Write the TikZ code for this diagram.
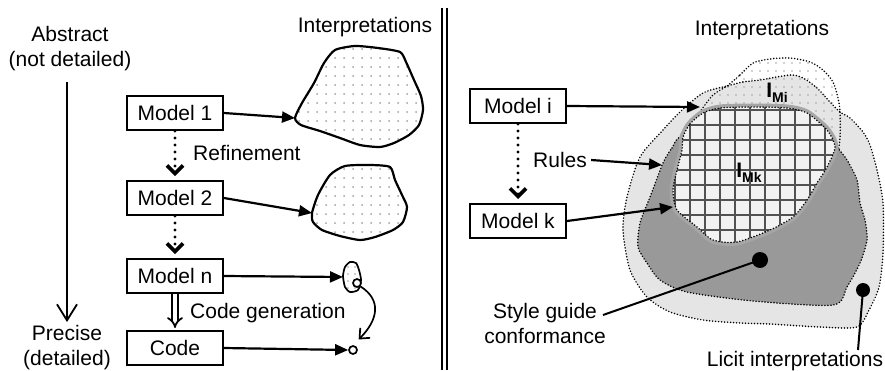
\documentclass[tikz,border=0pt]{standalone}
\usepackage{fontspec}
\setmainfont{Liberation Sans}
\usetikzlibrary{arrows.meta}

\newcommand\pathBlobA{plot[smooth cycle,tension=0.4] coordinates {(295,118) (302,103) (314,83) (324,63) (335,50) (355,46) (378,48) (400,52) (406,62) (414,80) (421,96) (423,110) (419,125) (409,135) (394,143) (380,147) (360,145) (340,138) (320,131) (301,125)}}
\newcommand\pathBlobB{plot[smooth cycle,tension=0.4] coordinates {(312,213) (318,195) (330,175) (345,166) (370,165) (390,167) (395,180) (402,195) (407,207) (403,222) (393,230) (375,237) (360,240) (340,236) (322,230) (313,222)}}
\newcommand\pathBlobC{plot[smooth cycle,tension=0.4] coordinates {(343,276) (345,267) (350,262) (356,263) (359,270) (361,280) (358,290) (350,292) (345,287)}}
\newcommand\pathLicit{plot[smooth cycle,tension=0.45] coordinates {(727,86) (743,82) (760,80) (790,75) (803,78) (817,88) (830,102) (840,112) (850,118) (863,132) (870,145) (877,170) (883,203) (883,253) (879,287) (869,310) (857,327) (820,327) (770,324) (740,323) (703,320) (670,312) (647,297) (630,270) (623,230) (627,197) (640,157) (663,130) (680,112) (703,93)}}
\newcommand\pathMi{plot[smooth cycle,tension=0.45] coordinates {(727,86) (740,75) (753,63) (770,59) (790,58) (810,62) (823,70) (833,82) (838,98) (840,112) (840,138) (836,160) (820,185) (760,200) (700,185) (683,160) (686,140) (690,130) (700,112) (713,95)}}
\newcommand\pathDark{plot[smooth cycle,tension=0.45] coordinates {(663,163) (672,148) (685,135) (760,125) (828,136) (837,147) (847,160) (857,180) (860,203) (865,220) (867,240) (860,263) (847,287) (833,305) (753,301) (687,292) (660,280) (647,263) (638,247) (640,223) (650,197)}}
\newcommand\pathMk{plot[smooth cycle,tension=0.45] coordinates {(683,137) (690,124) (703,113) (720,108) (753,107) (787,108) (807,113) (827,130) (835,147) (827,167) (817,183) (807,200) (793,217) (770,230) (737,242) (713,240) (697,227) (677,210) (673,190) (677,170) (682,150)}}

\begin{document}
\begin{tikzpicture}[x=1pt,y=-1pt,
  txt/.style={font=\fontsize{21}{25}\selectfont, inner sep=0pt},
  box/.style={draw, line width=2pt, minimum width=96pt, minimum height=34pt, inner sep=0pt, font=\fontsize{21}{25}\selectfont, fill=white},
  link/.style={line width=2.2pt, -{Triangle[length=13pt,width=11pt]}},
  refine/.style={line width=3.2pt, line cap=round, dash pattern=on 0pt off 7pt, shorten >=4pt, -{Straight Barb[length=8pt,width=16pt,line width=3.6pt]}},
  blob/.style={line width=2.2pt, line join=round},
  rdot/.style={line width=1.7pt, line cap=round, dash pattern=on 0pt off 3pt},
  ball/.style={circle, fill=black, inner sep=0pt},
  ring/.style={circle, draw, fill=white, line width=1.7pt, inner sep=0pt, minimum size=8pt},
]
\useasboundingbox (0,0) rectangle (885,370);

% ---------------- left panel ----------------
\node[txt, align=center] (abs) at (70,49) {Abstract\\(not detailed)};
\node[txt, align=center] (pre) at (67,348) {Precise\\(detailed)};
\coordinate (vtop) at (67,82);
\coordinate (vbot) at (67,322);
\draw[line width=1.8pt, -{Straight Barb[length=16pt,width=20pt]}] (vtop) -- (vbot);

\node[txt] (int1) at (365,27) {Interpretations};

\node[box] (m1) at (175,113) {Model 1};
\node[box] (m2) at (175,198) {Model 2};
\node[box] (mn) at (175,276) {Model n};
\node[box] (code) at (175,348) {Code};

\draw[refine] (m1.south) -- (m2.north);
\draw[refine] (m2.south) -- (mn.north);
\draw[line width=1.8pt, double distance=3.5pt, shorten >=2pt, -{Implies[length=7pt,width=14pt]}] (mn.south) -- (code.north);
\node[txt, anchor=west] (ref) at (193,153) {Refinement};
\node[txt, anchor=west] (cg) at (190,313) {Code generation};

% blobs
\begin{scope}
  \clip \pathBlobA;
  \foreach \x in {290,299,...,430}{\foreach \y in {40,49,...,155}{\fill[gray!75] (\x,\y) circle (1);}}
\end{scope}
\draw[blob] \pathBlobA;
\begin{scope}
  \clip \pathBlobB;
  \foreach \x in {308,317,...,410}{\foreach \y in {160,169,...,245}{\fill[gray!75] (\x,\y) circle (1);}}
\end{scope}
\draw[blob] \pathBlobB;
\begin{scope}
  \clip \pathBlobC;
  \foreach \x in {341,348,...,362}{\foreach \y in {260,267,...,295}{\fill[gray!75] (\x,\y) circle (0.9);}}
\end{scope}
\draw[line width=1.7pt, line join=round] \pathBlobC;

\coordinate (b1) at (295,118);
\coordinate (b2) at (312,213);
\coordinate (b3) at (343,277);
\node[ring] (c1) at (357,283) {};
\node[ring] (c2) at (353,350) {};

\draw[link] (m1.east) -- (b1);
\draw[link] (m2.east) -- (b2);
\draw[link] (mn.east) -- (b3);
\draw[link] (code.east) -- (c2.west);
\draw[line width=1.7pt, shorten >=8pt, -{Straight Barb[length=8pt,width=14pt]}] (c1.south east) .. controls (382,300) and (378,320) .. (c2.north);

% separator
\draw[line width=1.6pt] (442,8) -- (442,370);
\draw[line width=1.6pt] (447,8) -- (447,370);

% ---------------- right panel ----------------
\node[txt] (int2) at (762,30) {Interpretations};

\fill[white] \pathMi;
\fill[black!10] \pathLicit;
\begin{scope}
  \clip \pathMi;
  \foreach \x in {680,688,...,845}{\foreach \y in {55,63,...,205}{\fill[gray!70] (\x,\y) circle (0.9);}}
\end{scope}
\draw[rdot] \pathLicit;
\draw[rdot] \pathMi;

\fill[black!40] \pathDark;
\draw[rdot] \pathDark;

\draw[black!35, line width=7pt, line join=round] \pathMk;
\fill[black!5] \pathMk;
\begin{scope}
  \clip \pathMk;
  \foreach \x in {675,690,...,840}{\draw[black!68, line width=2pt] (\x,100) -- (\x,250);}
  \foreach \y in {110,125,...,245}{\draw[black!68, line width=2pt] (660,\y) -- (840,\y);}
\end{scope}
\draw[rdot] \pathMk;

\node[font=\fontsize{21}{25}\selectfont\bfseries, inner sep=0pt] (lmi) at (777,93) {I\raisebox{-5pt}{\fontsize{14}{14}\selectfont Mi}};
\node[font=\fontsize{21}{25}\selectfont\bfseries, inner sep=0pt] (lmk) at (749,173) {I\raisebox{-5pt}{\fontsize{14}{14}\selectfont Mk}};

\node[box] (mi) at (518,106) {Model i};
\node[box] (mk) at (518,221) {Model k};
\draw[refine] (mi.south) -- (mk.north);
\node[txt] (rules) at (560,160) {Rules};

\coordinate (tmi) at (700,107);
\coordinate (trl) at (662,165);
\coordinate (tmk) at (673,207);
\draw[link] (mi.east) -- (tmi);
\draw[link] (rules.east) ++(4,0) -- (trl);
\draw[link] (mk.east) -- (tmk);

\node[ball, minimum size=16pt] (sgd) at (760,260) {};
\node[ball, minimum size=14pt] (lcd) at (863,290) {};
\node[txt, align=center] (sg) at (545,323) {Style guide\\conformance};
\node[txt] (lc) at (795,361) {Licit interpretations};
\coordinate (sge) at (603,315);
\coordinate (lce) at (858,350);
\draw[line width=2pt] (sgd.center) -- (sge);
\draw[line width=2pt] (lcd.center) -- (lce);
\end{tikzpicture}
\end{document}
